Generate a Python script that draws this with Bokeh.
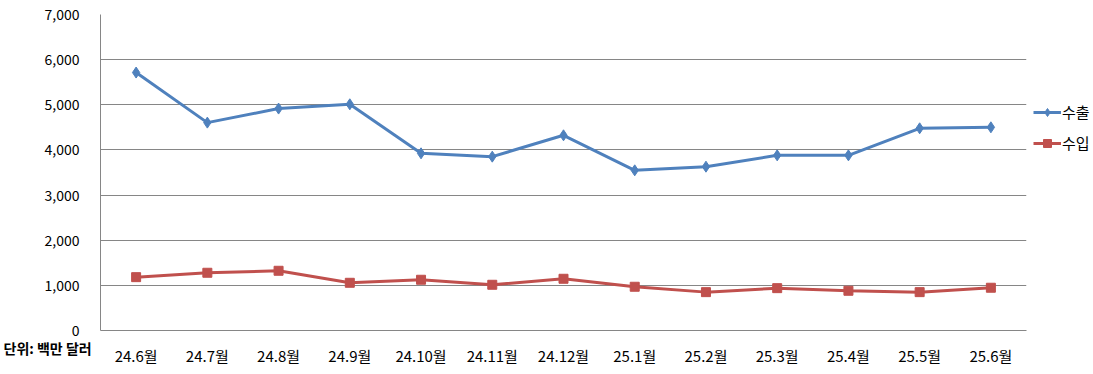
import numpy as np
from bokeh.plotting import figure
from bokeh.models import (FactorRange, Range1d, SingleIntervalTicker, NumeralTickFormatter,
                          Legend, LegendItem, Title, ColumnDataSource)
from bokeh.embed import file_html
from bokeh.resources import INLINE

months = ["24.6월", "24.7월", "24.8월", "24.9월", "24.10월", "24.11월", "24.12월",
          "25.1월", "25.2월", "25.3월", "25.4월", "25.5월", "25.6월"]
exports = [5714, 4605, 4916, 5011, 3925, 3851, 4324, 3548, 3629, 3880, 3880, 4479, 4501]
imports = [1182, 1279, 1323, 1057, 1124, 1013, 1146, 969, 850, 938, 880, 850, 947]
series_names = ["수출", "수입"]
unit_label = "단위: 백만 달러"

FONT = "Noto Sans CJK KR"
BLUE = "#4F81BD"
RED = "#C0504D"
GRID = "#868686"

src = ColumnDataSource(dict(m=months, ex=exports, im=imports))

p = figure(frame_width=926, frame_height=316,
           x_range=FactorRange(factors=months, range_padding=0),
           y_range=Range1d(0, 7000), output_backend="svg", toolbar_location=None,
           min_border_left=100, min_border_right=60, min_border_top=14, min_border_bottom=44)
p.outline_line_color = None
p.background_fill_color = "white"
p.border_fill_color = "white"

p.xgrid.grid_line_color = None
p.ygrid.grid_line_color = GRID
p.ygrid.grid_line_width = 1

p.yaxis.ticker = SingleIntervalTicker(interval=1000)
p.yaxis.formatter = NumeralTickFormatter(format="0,0")
for ax in (p.xaxis[0], p.yaxis[0]):
    ax.axis_line_color = GRID
    ax.major_tick_line_color = None
    ax.minor_tick_line_color = None
    ax.major_label_text_font = FONT
    ax.major_label_text_color = "#000000"
p.yaxis.major_label_text_font_size = "14px"
p.xaxis.major_label_text_font_size = "15px"
p.yaxis.major_label_standoff = 15
p.xaxis.major_label_standoff = 8

l1 = p.line("m", "ex", source=src, line_color=BLUE, line_width=3)
s1 = p.scatter("m", "ex", source=src, marker="diamond", size=11,
               fill_color=BLUE, line_color=BLUE)
l2 = p.line("m", "im", source=src, line_color=RED, line_width=3)
s2 = p.scatter("m", "im", source=src, marker="square", size=9,
               fill_color=RED, line_color=RED)

legend = Legend(items=[LegendItem(label=series_names[0], renderers=[l1, s1]),
                       LegendItem(label=series_names[1], renderers=[l2, s2])],
                location="top_left", orientation="vertical",
                title=" ", title_text_font_size="10px", title_standoff=69,
                glyph_width=28, glyph_height=20, label_height=20, spacing=10,
                label_standoff=1, padding=0, margin=7,
                border_line_color=None, background_fill_alpha=0,
                label_text_font=FONT, label_text_font_size="15px",
                label_text_color="#000000")
p.add_layout(legend, "right")

unit = Title(text=unit_label, align="left", offset=-97, standoff=-62, vertical_align="top",
             text_font=FONT, text_font_size="14px", text_font_style="bold",
             text_color="#000000")
p.add_layout(unit, "below")

open("out.html", "w").write(file_html(p, INLINE))
